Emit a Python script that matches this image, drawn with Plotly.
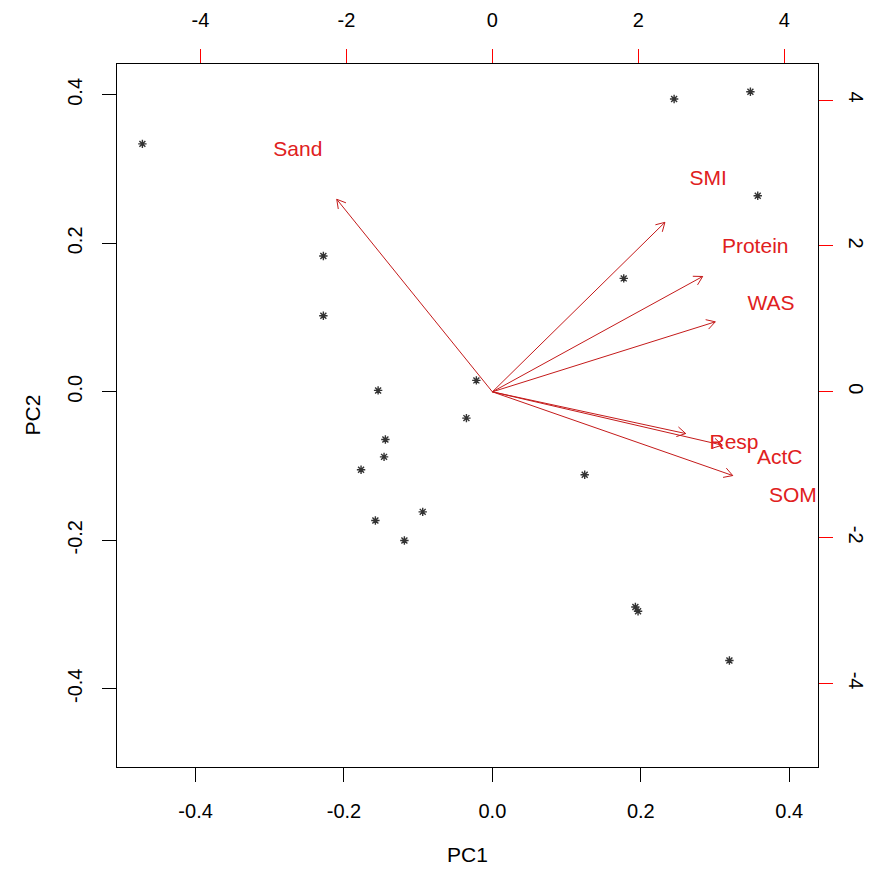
import plotly.graph_objects as go
import numpy as np

# Observation scores (primary axes: PC1 / PC2)
pc1 = [-0.4717, -0.2278, -0.2278, 0.2449, 0.3477, 0.3576, 0.1770, -0.0216, -0.1540, -0.0350,
       -0.1442, -0.1460, -0.1770, -0.0939, -0.1577, -0.1186, 0.1244, 0.1927, 0.1963, 0.3194]
pc2 = [0.3340, 0.1829, 0.1024, 0.3945, 0.4043, 0.2642, 0.1528, 0.0154, 0.0019, -0.0354,
       -0.0642, -0.0876, -0.1050, -0.1617, -0.1733, -0.2003, -0.1118, -0.2898, -0.2955, -0.3620]

# Variable loadings (secondary axes: top / right)
var_names = ["Sand", "SMI", "Protein", "WAS", "Resp", "ActC", "SOM"]
load1 = [-2.665, 2.954, 3.600, 3.816, 3.310, 3.936, 4.115]
load2 = [3.300, 2.905, 1.977, 1.200, -0.715, -0.914, -1.435]

x_ticks = [-0.4, -0.2, 0.0, 0.2, 0.4]
x_ticktext = ["-0.4", "-0.2", "0.0", "0.2", "0.4"]
sec_ticks = [-4, -2, 0, 2, 4]
sec_ticktext = ["-4", "-2", "0", "2", "4"]

ARROW_SCALE = 0.8
FONT = "Liberation Sans, Arial, sans-serif"
RED = "#e02020"
ARROW_RED = "#c41a1a"

fig = go.Figure()

# points
fig.add_trace(go.Scatter(
    x=pc1, y=pc2, mode="markers",
    marker=dict(symbol="asterisk-open", size=7, color="#333333", line=dict(width=1.4, color="#333333")),
    xaxis="x", yaxis="y", showlegend=False, hoverinfo="skip"))

# arrows (shaft + open V head), in secondary coordinates
head_len = 0.135
ang = np.deg2rad(30)
ax_x, ax_y = [], []
for l1, l2 in zip(load1, load2):
    tx, ty = l1 * ARROW_SCALE, l2 * ARROW_SCALE
    ax_x += [0, tx, None]
    ax_y += [0, ty, None]
    th = np.arctan2(ty, tx)
    for s in (1, -1):
        hx = tx - head_len * np.cos(th + s * ang)
        hy = ty - head_len * np.sin(th + s * ang)
        ax_x += [tx, hx, None]
        ax_y += [ty, hy, None]
fig.add_trace(go.Scatter(
    x=ax_x, y=ax_y, mode="lines", line=dict(color=ARROW_RED, width=1),
    xaxis="x2", yaxis="y2", showlegend=False, hoverinfo="skip"))

# variable labels
fig.add_trace(go.Scatter(
    x=load1, y=load2, mode="text", text=var_names, textposition="middle center",
    textfont=dict(color=RED, size=21, family=FONT),
    xaxis="x2", yaxis="y2", showlegend=False, hoverinfo="skip"))

common = dict(showgrid=False, zeroline=False, showline=True, linecolor="black", linewidth=1,
              ticks="outside", ticklen=14, tickwidth=1, automargin=False)

fig.update_layout(
    width=866, height=870,
    margin=dict(l=109, r=56, t=56, b=111, pad=0),
    paper_bgcolor="white", plot_bgcolor="white",
    font=dict(family=FONT, size=20, color="black"),
    xaxis=dict(range=[-0.5059, 0.4388], tickvals=x_ticks, ticktext=x_ticktext,
               tickcolor="black", ticklabelstandoff=12, **common),
    yaxis=dict(range=[-0.5054, 0.4416], tickvals=x_ticks, ticktext=x_ticktext,
               tickcolor="black", tickangle=-90, ticklabelstandoff=12, **common),
    xaxis2=dict(range=[-5.142, 4.460], overlaying="x", side="top", anchor="y",
                tickvals=sec_ticks, ticktext=sec_ticktext, tickcolor="red",
                ticklabelstandoff=14, **common),
    yaxis2=dict(range=[-5.144, 4.495], overlaying="y", side="right", anchor="x",
                tickvals=sec_ticks, ticktext=sec_ticktext, tickcolor="red",
                tickangle=90, ticklabelstandoff=8, **common),
    annotations=[
        dict(text="PC1", xref="paper", yref="paper", x=0.5, y=0, yshift=-87,
             showarrow=False, font=dict(size=21, family=FONT), xanchor="center", yanchor="middle"),
        dict(text="PC2", xref="paper", yref="paper", x=0, y=0.5, xshift=-85,
             showarrow=False, font=dict(size=21, family=FONT), textangle=-90,
             xanchor="center", yanchor="middle"),
    ],
)

fig.write_html("out.html")
